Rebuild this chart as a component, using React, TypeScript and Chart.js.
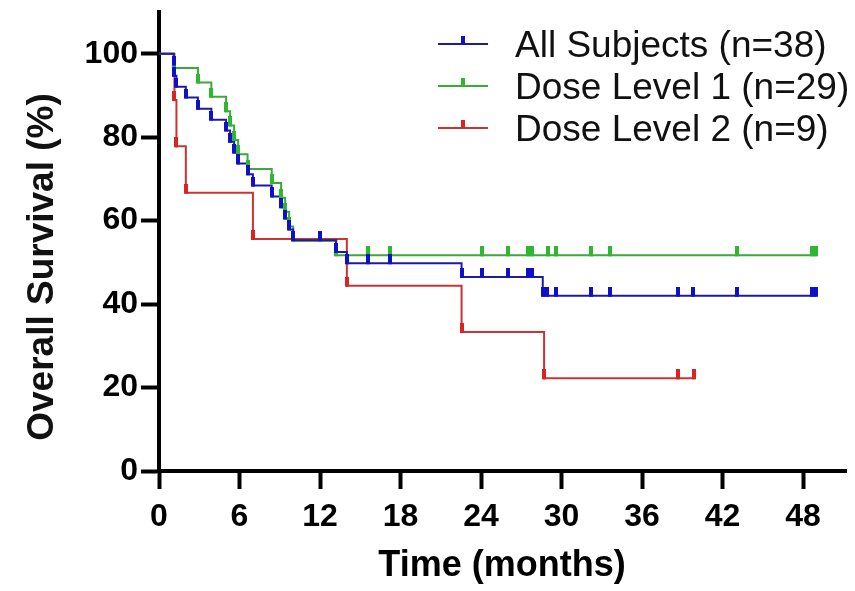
import React, { useEffect, useRef } from "react";
import { Chart, registerables } from "chart.js";

Chart.register(...registerables);

// ---------- data ----------
const xTickValues = [0, 6, 12, 18, 24, 30, 36, 42, 48];
const yTickValues = [0, 20, 40, 60, 80, 100];

const seriesNames = ["All Subjects (n=38)", "Dose Level 1 (n=29)", "Dose Level 2 (n=9)"];
const lineColors = ["#1c1ca0", "#3aaa3a", "#cc3333"];
const markColors = ["#1010c8", "#2fb82f", "#d82424"];

const allEventTimes = [0, 1.1, 1.15, 1.3, 2.0, 2.9, 3.9, 5.0, 5.3, 5.6, 5.9, 6.6, 7.0, 8.4, 9.1, 9.4, 9.7, 10.0, 13.2, 14.0, 22.55, 28.6];
const allSurvival = [100, 97.4, 94.7, 92.1, 89.5, 86.8, 84.2, 81.6, 78.9, 76.3, 73.7, 71.1, 68.4, 65.8, 63.2, 60.5, 57.9, 55.3, 52.5, 49.8, 46.5, 42.0];
const allCensorTimes = [12.0, 15.6, 17.2, 24.1, 26.0, 27.5, 27.8, 28.9, 29.6, 32.2, 33.6, 38.7, 39.8, 43.1, 48.7, 49.0];

const dose1EventTimes = [0, 1.1, 2.9, 3.9, 5.0, 5.3, 5.6, 5.9, 6.6, 8.4, 9.1, 9.4, 9.7, 10.0, 13.2];
const dose1Survival = [100, 96.6, 93.1, 89.7, 86.2, 82.8, 79.3, 75.9, 72.4, 69.0, 65.5, 62.1, 58.6, 55.2, 51.7];
const dose1CensorTimes = [15.6, 17.2, 24.1, 26.0, 27.5, 27.8, 29.0, 29.6, 32.2, 33.6, 43.1, 48.7, 49.0];

const dose2EventTimes = [0, 1.15, 1.3, 2.0, 7.0, 14.0, 22.55, 28.7];
const dose2Survival = [100, 88.9, 77.8, 66.7, 55.6, 44.4, 33.3, 22.2];
const dose2CensorTimes = [38.7, 39.85];

const xMax = 51.2;
const yMax = 110;

// ---------- helpers ----------
function survivalAt(times: number[], surv: number[], t: number) {
  let s = surv[0];
  for (let i = 0; i < times.length; i++) if (times[i] <= t) s = surv[i];
  return s;
}

function stepData(times: number[], surv: number[], censors: number[]) {
  const pts = times.map((t, i) => ({ x: t, y: surv[i] }));
  const end = Math.max(...censors);
  pts.push({ x: end, y: survivalAt(times, surv, end) });
  return pts;
}

function markData(times: number[], surv: number[], censors: number[]) {
  const ev = times.slice(1).map((t, i) => ({ x: t, y: surv[i + 1] }));
  const ce = censors.map((t) => ({ x: t, y: survivalAt(times, surv, t) }));
  return ev.concat(ce);
}

function makeTick(color: string) {
  const c = document.createElement("canvas");
  c.width = 4;
  c.height = 18;
  const g = c.getContext("2d")!;
  g.fillStyle = color;
  g.fillRect(0, 0, 4, 10);
  return c;
}

export default function App() {
  const ref = useRef<HTMLCanvasElement | null>(null);

  useEffect(() => {
    document.body.style.margin = "0";
    const axisFamily = '"Liberation Sans", Arial, sans-serif';
    const tickSize = 32;
    const xTitleSize = 36;
    const yTitleSize = 37;

    const series = [
      { times: allEventTimes, surv: allSurvival, cens: allCensorTimes },
      { times: dose1EventTimes, surv: dose1Survival, cens: dose1CensorTimes },
      { times: dose2EventTimes, surv: dose2Survival, cens: dose2CensorTimes },
    ];

    const markDatasets = series.map((s, i) => ({
      label: seriesNames[i] + " marks",
      data: markData(s.times, s.surv, s.cens),
      showLine: false,
      pointStyle: makeTick(markColors[i]),
      pointRadius: 5,
      borderWidth: 0,
    }));
    const lineDatasets = series.map((s, i) => ({
      label: seriesNames[i],
      data: stepData(s.times, s.surv, s.cens),
      stepped: true,
      borderColor: lineColors[i],
      borderWidth: 2,
      pointRadius: 0,
      fill: false,
    }));

    const overlay = {
      id: "kmOverlay",
      afterDraw(chart: any) {
        const ctx = chart.ctx as CanvasRenderingContext2D;
        ctx.save();
        // legend
        const rows = [44, 86, 128];
        rows.forEach((y, i) => {
          ctx.strokeStyle = lineColors[i];
          ctx.lineWidth = 2;
          ctx.beginPath();
          ctx.moveTo(438, y);
          ctx.lineTo(488, y);
          ctx.stroke();
          ctx.fillStyle = markColors[i];
          ctx.fillRect(461, y - 8, 4, 8);
          ctx.fillStyle = "#111";
          ctx.font = '37px "Liberation Sans", Arial, sans-serif';
          ctx.textAlign = "left";
          ctx.textBaseline = "middle";
          ctx.fillText(seriesNames[i], 515, y + 3);
        });
        // axis titles
        ctx.fillStyle = "#000";
        ctx.font = `bold ${xTitleSize}px ${axisFamily}`;
        ctx.textAlign = "center";
        ctx.textBaseline = "middle";
        ctx.fillText("Time (months)", 502, 566);
        ctx.translate(43, 267);
        ctx.rotate(-Math.PI / 2);
        ctx.font = `bold ${yTitleSize}px ${axisFamily}`;
        ctx.fillStyle = "#111";
        ctx.fillText("Overall Survival (%)", 0, 0);
        ctx.restore();
      },
    };

    const tickFont = { family: axisFamily, size: tickSize, weight: "bold" as const };

    const chart = new Chart(ref.current!, {
      type: "line",
      data: { datasets: [...markDatasets, ...lineDatasets] as any },
      options: {
        animation: false,
        responsive: false,
        maintainAspectRatio: false,
        layout: { padding: { left: 0, right: 9, top: 12, bottom: 0 } },
        plugins: { legend: { display: false }, tooltip: { enabled: false } },
        scales: {
          x: {
            type: "linear",
            min: 0,
            max: xMax,
            afterBuildTicks: (s: any) => {
              s.ticks = xTickValues.map((v) => ({ value: v }));
            },
            afterFit: (s: any) => {
              s.height = 120;
              s.paddingLeft = 0;
              s.paddingRight = 0;
              s.paddingTop = 0;
              s.paddingBottom = 0;
            },
            grid: { display: true, drawOnChartArea: false, drawTicks: true, tickLength: 18, tickWidth: 4, tickColor: "#000" },
            border: { display: true, width: 4, color: "#000" },
            ticks: { color: "#000", font: tickFont, padding: 9, maxRotation: 0, autoSkip: false },
          },
          y: {
            type: "linear",
            min: 0,
            max: yMax,
            afterBuildTicks: (s: any) => {
              s.ticks = yTickValues.map((v) => ({ value: v }));
            },
            afterFit: (s: any) => {
              s.width = 159;
              s.paddingLeft = 0;
              s.paddingRight = 0;
              s.paddingTop = 0;
              s.paddingBottom = 0;
            },
            grid: { display: true, drawOnChartArea: false, drawTicks: true, tickLength: 18, tickWidth: 4, tickColor: "#000" },
            border: { display: true, width: 4, color: "#000" },
            ticks: { color: "#000", font: tickFont, padding: 3, autoSkip: false },
          },
        },
      },
      plugins: [overlay],
    });
    return () => chart.destroy();
  }, []);

  return (
    <div style={{ width: 855, height: 591, background: "#fff" }}>
      <canvas ref={ref} width={855} height={591} />
    </div>
  );
}
